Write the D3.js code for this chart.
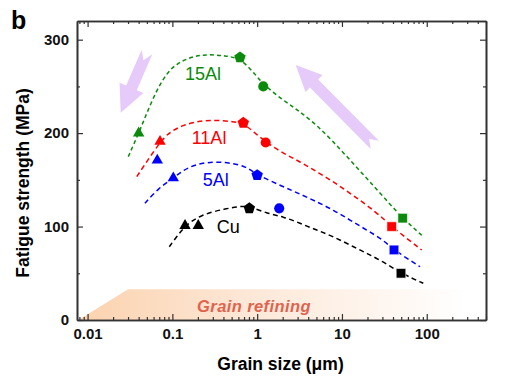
<!DOCTYPE html>
<html>
<head>
<meta charset="utf-8">
<script src="https://cdn.jsdelivr.net/npm/d3@7"></script>
<style>
  body { margin: 0; background: #fff; }
  svg { display: block; font-family: Arial, "Liberation Sans", sans-serif; }
</style>
</head>
<body>
<svg width="512" height="382"></svg>
<script>
// Series: dashed guide curves, [grain size um, MPa]
const curve15Al = [[0.0302,174.8],[0.0407,201.5],[0.0498,221.2],[0.0653,246.2],[0.0857,264.0],[0.1125,274.7],[0.1765,282.5],[0.278,284.4],[0.437,282.5],[0.627,280],[0.89,266],[1.18,252],[2.03,235],[3.2,223],[5.04,208.5],[7.91,190.8],[12.44,171.2],[19.58,151.7],[30.7,132.0],[52,108.8],[91.1,89.2]];
const curve11Al = [[0.038,153.4],[0.0715,190.8],[0.0937,201.5],[0.1345,208.7],[0.2117,213.3],[0.333,214.0],[0.523,212.2],[0.686,210.5],[0.92,201],[1.26,190.5],[2.03,178.4],[3.2,169.4],[5.04,158.7],[7.91,148.0],[12.44,135.6],[19.58,123.1],[30.7,108.8],[38.6,99.9],[87.2,74.9]];
const curve5Al = [[0.0475,124.9],[0.0682,141.0],[0.1025,151.7],[0.1345,160.5],[0.1935,167.0],[0.304,169.4],[0.478,168.3],[0.752,164.1],[1.0,155.2],[2.03,142.7],[3.2,134.8],[5.04,126.6],[7.91,117.7],[12.44,107.0],[19.58,96.3],[30.7,85.6],[41.1,74.9],[83.2,57.0]];
const curveCu = [[0.092,78.4],[0.1125,89.2],[0.141,100.6],[0.2117,112.4],[0.437,119.5],[0.686,122.0],[0.823,121.3],[1.296,114.2],[2.03,110.6],[3.2,103.5],[5.04,96.3],[7.91,89.2],[12.44,80.3],[19.58,71.4],[30.7,62.4],[49.7,50.0],[91.1,39.3]];

// Measured points: [grain size um, MPa, marker]
const points15Al = [[0.04,200,"tri"],[0.627,281,"pent"],[1.18,250,"circ"],[52,109,"sq"]];
const points11Al = [[0.0715,191,"tri"],[0.686,211,"pent"],[1.26,190,"circ"],[38.6,100,"sq"]];
const points5Al = [[0.0664,171,"tri"],[0.1025,152,"tri"],[1.0,155,"pent"],[1.82,119.5,"circ"],[41.1,75,"sq"]];
const pointsCu = [[0.141,101,"tri"],[0.202,101,"tri"],[0.808,119.5,"pent"],[49.7,50,"sq"]];

const seriesNames = ["15Al", "11Al", "5Al", "Cu"];
const seriesColors = ["#0b8a0b", "#ff0000", "#0000ff", "#000000"];
const labelAt = [[0.141,257],[0.169,188],[0.228,143.7],[0.333,92.8]];

const xMajor = [0.01, 0.1, 1, 10, 100];
const yMajor = [0, 100, 200, 300];
const yMinor = [50, 150, 250];

const svg = d3.select("svg");
const mLeft = 77, mRight = 486, mTop = 21, mBottom = 320;

const x = d3.scaleLog().domain([0.0075, 500]).range([mLeft, mRight]);
const y = d3.scaleLinear().domain([0, 320]).range([mBottom, mTop]);

// minor log ticks 2..9 per decade
const xMinor = [];
[0.001, 0.01, 0.1, 1, 10, 100].forEach(d => {
  for (let k = 2; k <= 9; k++) {
    const v = k * d;
    if (v >= 0.0075 && v <= 500) xMinor.push(v);
  }
});

// Grain refining band
const defs = svg.append("defs");
const grad = defs.append("linearGradient")
    .attr("id", "band")
    .attr("gradientUnits", "userSpaceOnUse")
    .attr("x1", x(0.0075)).attr("x2", x(300))
    .attr("y1", 0).attr("y2", 0);
grad.append("stop").attr("offset", 0).attr("stop-color", "#fbd2ae");
grad.append("stop").attr("offset", 0.45).attr("stop-color", "#fde8d8");
grad.append("stop").attr("offset", 1).attr("stop-color", "#ffffff");

const band = [[0.0078, 0], [0.03, 33], [300, 33], [300, 0]];
svg.append("path")
    .attr("d", d3.line().x(d => x(d[0])).y(d => y(d[1]))(band) + "Z")
    .attr("fill", "url(#band)");

svg.append("text")
    .attr("x", x(0.918)).attr("y", y(8.9))
    .attr("text-anchor", "middle")
    .style("font-size", "16.5px")
    .style("font-weight", "bold")
    .style("font-style", "italic")
    .style("letter-spacing", "0.4px")
    .attr("fill", "#e0634e")
    .text("Grain refining");

// Lavender arrows: [tail, tip] in data coords
const arrows = [
  { tail: [0.0502, 286.8], tip: [0.02458, 221.9], head: 26, headLen: 27, notch: 9 },
  { tail: [24.4, 187.5], tip: [2.848, 272.9], head: 24, headLen: 26, notch: 8 }
];

function arrowPath(a) {
  const x0 = x(a.tail[0]), y0 = y(a.tail[1]);
  const x1 = x(a.tip[0]), y1 = y(a.tip[1]);
  const len = Math.hypot(x1 - x0, y1 - y0);
  const ux = (x1 - x0) / len, uy = (y1 - y0) / len;
  const nx = -uy, ny = ux;
  const sw = 5.8, hw = a.head / 2;
  const bx = x1 - ux * a.headLen, by = y1 - uy * a.headLen;
  const pts = [
    [x0 + nx * sw, y0 + ny * sw],
    [bx + nx * sw, by + ny * sw],
    [bx + nx * hw, by + ny * hw],
    [x1, y1],
    [bx - nx * hw, by - ny * hw],
    [bx - nx * sw, by - ny * sw],
    [x0 - nx * sw, y0 - ny * sw],
    [x0 + ux * a.notch, y0 + uy * a.notch]
  ];
  return "M" + pts.map(p => p.join(",")).join("L") + "Z";
}

svg.append("g").selectAll("path")
  .data(arrows)
  .enter().append("path")
    .attr("d", arrowPath)
    .attr("fill", "#e6cbfa");

// Dashed curves
const line = d3.line()
    .x(d => x(d[0]))
    .y(d => y(d[1]))
    .curve(d3.curveBasis);

[curve15Al, curve11Al, curve5Al, curveCu].forEach((c, i) => {
  svg.append("path")
      .attr("d", line(c))
      .attr("fill", "none")
      .attr("stroke", seriesColors[i])
      .attr("stroke-width", 1.5)
      .attr("stroke-dasharray", i === 0 ? "4,3" : "5,3.5");
});

// Markers
function pentagon(r) {
  const p = d3.path();
  for (let k = 0; k < 5; k++) {
    const a = -Math.PI / 2 + k * 2 * Math.PI / 5;
    if (k === 0) p.moveTo(r * Math.cos(a), r * Math.sin(a));
    else p.lineTo(r * Math.cos(a), r * Math.sin(a));
  }
  p.closePath();
  return p.toString();
}

const markerPath = {
  tri: d3.symbol().type(d3.symbolTriangle).size(56)(),
  circ: d3.symbol().type(d3.symbolCircle).size(80)(),
  sq: d3.symbol().type(d3.symbolSquare).size(92)(),
  pent: pentagon(6)
};

[points15Al, points11Al, points5Al, pointsCu].forEach((pts, i) => {
  svg.append("g").selectAll("path")
    .data(pts)
    .enter().append("path")
      .attr("transform", d => `translate(${x(d[0])},${y(d[1])})`)
      .attr("d", d => markerPath[d[2]])
      .attr("fill", seriesColors[i])
      .attr("stroke", d => d[2] === "sq" ? "#ffffff" : "none")
      .attr("stroke-width", 0.6);
});

// Series labels
svg.append("g").selectAll("text")
  .data(seriesNames)
  .enter().append("text")
    .attr("x", (d, i) => x(labelAt[i][0]))
    .attr("y", (d, i) => y(labelAt[i][1]))
    .style("font-size", "18px")
    .attr("fill", (d, i) => seriesColors[i])
    .text(d => d);

// Axes (ticks point inward on all four sides)
function styleAxis(g) {
  g.selectAll(".domain").attr("stroke", "#333").attr("stroke-width", 1.6);
  g.selectAll(".tick line").attr("stroke", "#333").attr("stroke-width", 1.2);
  g.selectAll("text")
      .style("font-size", "15px")
      .style("font-weight", "bold")
      .style("font-family", "Arial, 'Liberation Sans', sans-serif")
      .attr("fill", "#111");
}

svg.append("g")
    .attr("transform", `translate(0,${mBottom})`)
    .call(d3.axisBottom(x).tickValues(xMajor).tickSizeInner(-6).tickSizeOuter(0)
      .tickPadding(8).tickFormat(d => String(d)))
    .call(styleAxis);
svg.append("g")
    .attr("transform", `translate(0,${mBottom})`)
    .call(d3.axisBottom(x).tickValues(xMinor).tickSizeInner(-3).tickSizeOuter(0).tickFormat(""))
    .call(styleAxis);
svg.append("g")
    .attr("transform", `translate(0,${mTop})`)
    .call(d3.axisTop(x).tickValues(xMajor).tickSizeInner(-6).tickSizeOuter(0).tickFormat(""))
    .call(styleAxis);
svg.append("g")
    .attr("transform", `translate(0,${mTop})`)
    .call(d3.axisTop(x).tickValues(xMinor).tickSizeInner(-3).tickSizeOuter(0).tickFormat(""))
    .call(styleAxis);

svg.append("g")
    .attr("transform", `translate(${mLeft},0)`)
    .call(d3.axisLeft(y).tickValues(yMajor).tickSizeInner(-6).tickSizeOuter(0).tickPadding(8))
    .call(styleAxis);
svg.append("g")
    .attr("transform", `translate(${mLeft},0)`)
    .call(d3.axisLeft(y).tickValues(yMinor).tickSizeInner(-3).tickSizeOuter(0).tickFormat(""))
    .call(styleAxis);
svg.append("g")
    .attr("transform", `translate(${mRight},0)`)
    .call(d3.axisRight(y).tickValues(yMajor).tickSizeInner(-6).tickSizeOuter(0).tickFormat(""))
    .call(styleAxis);
svg.append("g")
    .attr("transform", `translate(${mRight},0)`)
    .call(d3.axisRight(y).tickValues(yMinor).tickSizeInner(-3).tickSizeOuter(0).tickFormat(""))
    .call(styleAxis);

// Axis titles and panel letter
svg.append("text")
    .attr("x", 280.5).attr("y", 370)
    .attr("text-anchor", "middle")
    .style("font-size", "17.5px")
    .style("font-weight", "bold")
    .text("Grain size (μm)");

svg.append("text")
    .attr("transform", "translate(29,183) rotate(-90)")
    .attr("text-anchor", "middle")
    .style("font-size", "17.5px")
    .style("font-weight", "bold")
    .text("Fatigue strength (MPa)");

svg.append("text")
    .attr("x", 11).attr("y", 29)
    .style("font-size", "25px")
    .style("font-weight", "bold")
    .text("b");
</script>
</body>
</html>
